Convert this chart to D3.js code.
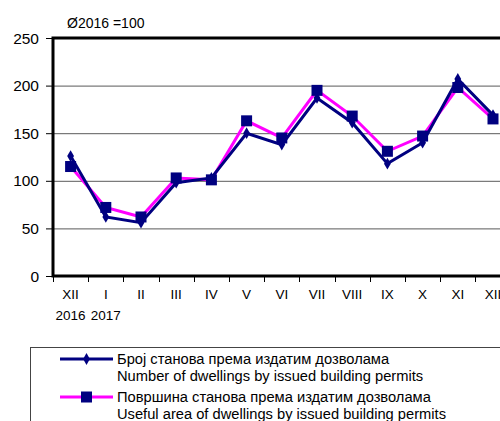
<!DOCTYPE html>
<html>
<head>
<meta charset="utf-8">
<script src="https://cdnjs.cloudflare.com/ajax/libs/d3/7.8.5/d3.min.js"></script>
<style>
  body { margin: 0; background: #fff; }
  svg { display: block; font-family: "Liberation Sans", Arial, sans-serif; }
</style>
</head>
<body>
<div id="chart"></div>
<script>
// months, Dec 2016 .. Dec 2017
var months = ['XII', 'I', 'II', 'III', 'IV', 'V', 'VI', 'VII', 'VIII', 'IX', 'X', 'XI', 'XII'];
var years = ['2016', '2017', '', '', '', '', '', '', '', '', '', '', ''];
// Ø2016 = 100
var dwellings = [126, 62, 56, 98, 103, 150, 138, 187, 161, 118, 140, 207, 169];
var area = [115, 72, 62, 103, 101, 163, 145, 195, 168, 131, 147, 198, 165];
var yTicks = [0, 50, 100, 150, 200, 250];
var legendLabels = [
  ['Број станова према издатим дозволама', 'Number of dwellings by issued building permits'],
  ['Површина станова према издатим дозволама', 'Useful area of dwellings by issued building permits']
];

function drawChart() {
  var W = 500, H = 421;
  var mLeft = 53, mTop = 38, mBottom = 276, bandW = 35.2;

  var svg = d3.select('#chart').append('svg')
    .attr('width', W).attr('height', H);

  var x = d3.scaleBand()
    .domain(d3.range(months.length))
    .range([mLeft, mLeft + bandW * months.length]);

  var y = d3.scaleLinear()
    .domain([0, 250])
    .range([mBottom, mTop]);

  // gridlines
  svg.append('g')
    .selectAll('line')
    .data(yTicks.filter(function (d) { return d > 0 && d < 250; }))
    .enter().append('line')
    .attr('x1', mLeft).attr('x2', W)
    .attr('y1', function (d) { return y(d) + 0.5; })
    .attr('y2', function (d) { return y(d) + 0.5; })
    .attr('stroke', '#5a5a5a')
    .attr('stroke-width', 1);

  // y axis ticks + labels
  var yAxis = svg.append('g');
  yAxis.selectAll('line')
    .data(yTicks).enter().append('line')
    .attr('x1', mLeft - 7).attr('x2', mLeft)
    .attr('y1', function (d) { return y(d) + 0.5; })
    .attr('y2', function (d) { return y(d) + 0.5; })
    .attr('stroke', '#000');
  yAxis.selectAll('text')
    .data(yTicks).enter().append('text')
    .attr('x', 39)
    .attr('y', function (d) { return y(d) + 5.5; })
    .attr('text-anchor', 'end')
    .attr('font-size', 15.5)
    .text(function (d) { return d; });

  // x axis ticks (band edges)
  svg.append('g')
    .selectAll('line')
    .data(d3.range(months.length + 1))
    .enter().append('line')
    .attr('x1', function (i) { return Math.round(mLeft + i * bandW) + 0.5; })
    .attr('x2', function (i) { return Math.round(mLeft + i * bandW) + 0.5; })
    .attr('y1', mBottom).attr('y2', mBottom + 6)
    .attr('stroke', '#000');

  var xl = svg.append('g').attr('font-size', 13.5);
  xl.selectAll('text.m')
    .data(months).enter().append('text')
    .attr('class', 'm')
    .attr('x', function (d, i) { return x(i) + x.bandwidth() / 2; })
    .attr('y', 299)
    .attr('text-anchor', 'middle')
    .text(function (d) { return d; });
  xl.selectAll('text.yr')
    .data(years).enter().append('text')
    .attr('class', 'yr')
    .attr('x', function (d, i) { return x(i) + x.bandwidth() / 2; })
    .attr('y', 320)
    .attr('text-anchor', 'middle')
    .text(function (d) { return d; });

  // frame
  svg.append('path')
    .attr('d', 'M' + W + ',' + mTop + 'H' + mLeft + 'V' + mBottom + 'H' + W)
    .attr('fill', 'none')
    .attr('stroke', '#000')
    .attr('stroke-width', 3);

  svg.append('text')
    .attr('x', 67).attr('y', 28)
    .attr('font-size', 14)
    .text('Ø2016 =100');

  var cx = function (d, i) { return x(i) + x.bandwidth() / 2; };
  var line = d3.line()
    .x(cx)
    .y(function (d) { return y(d); });

  var diamond = d3.symbol().type(d3.symbolDiamond).size(40);

  // area series: magenta line, navy squares
  svg.append('path')
    .datum(area)
    .attr('d', line)
    .attr('fill', 'none')
    .attr('stroke', '#ff00ff')
    .attr('stroke-width', 3);

  // dwellings series: navy line, diamonds
  svg.append('path')
    .datum(dwellings)
    .attr('d', line)
    .attr('fill', 'none')
    .attr('stroke', '#000080')
    .attr('stroke-width', 3);

  svg.append('g')
    .selectAll('path')
    .data(dwellings).enter().append('path')
    .attr('transform', function (d, i) { return 'translate(' + cx(d, i) + ',' + y(d) + ')'; })
    .attr('d', diamond)
    .attr('fill', '#000080');

  svg.append('g')
    .selectAll('rect')
    .data(area).enter().append('rect')
    .attr('x', function (d, i) { return cx(d, i) - 5.5; })
    .attr('y', function (d) { return y(d) - 5.5; })
    .attr('width', 11).attr('height', 11)
    .attr('fill', '#000080');

  // legend
  var lg = svg.append('g');
  lg.append('rect')
    .attr('x', 30.5).attr('y', 347.5)
    .attr('width', 480).attr('height', 100)
    .attr('fill', 'none')
    .attr('stroke', '#444');

  var rowY = [359, 397];
  var colors = ['#000080', '#ff00ff'];
  legendLabels.forEach(function (lbl, k) {
    lg.append('line')
      .attr('x1', 60).attr('x2', 113)
      .attr('y1', rowY[k]).attr('y2', rowY[k])
      .attr('stroke', colors[k])
      .attr('stroke-width', 3);
    if (k === 0) {
      lg.append('path')
        .attr('transform', 'translate(86.5,' + rowY[k] + ')')
        .attr('d', diamond)
        .attr('fill', '#000080');
    } else {
      lg.append('rect')
        .attr('x', 81).attr('y', rowY[k] - 5.5)
        .attr('width', 11).attr('height', 11)
        .attr('fill', '#000080');
    }
    lbl.forEach(function (t, j) {
      lg.append('text')
        .attr('x', 117)
        .attr('y', rowY[k] + 5 + j * 17)
        .attr('font-size', 14.7)
        .text(t);
    });
  });
}

drawChart();
</script>
</body>
</html>
